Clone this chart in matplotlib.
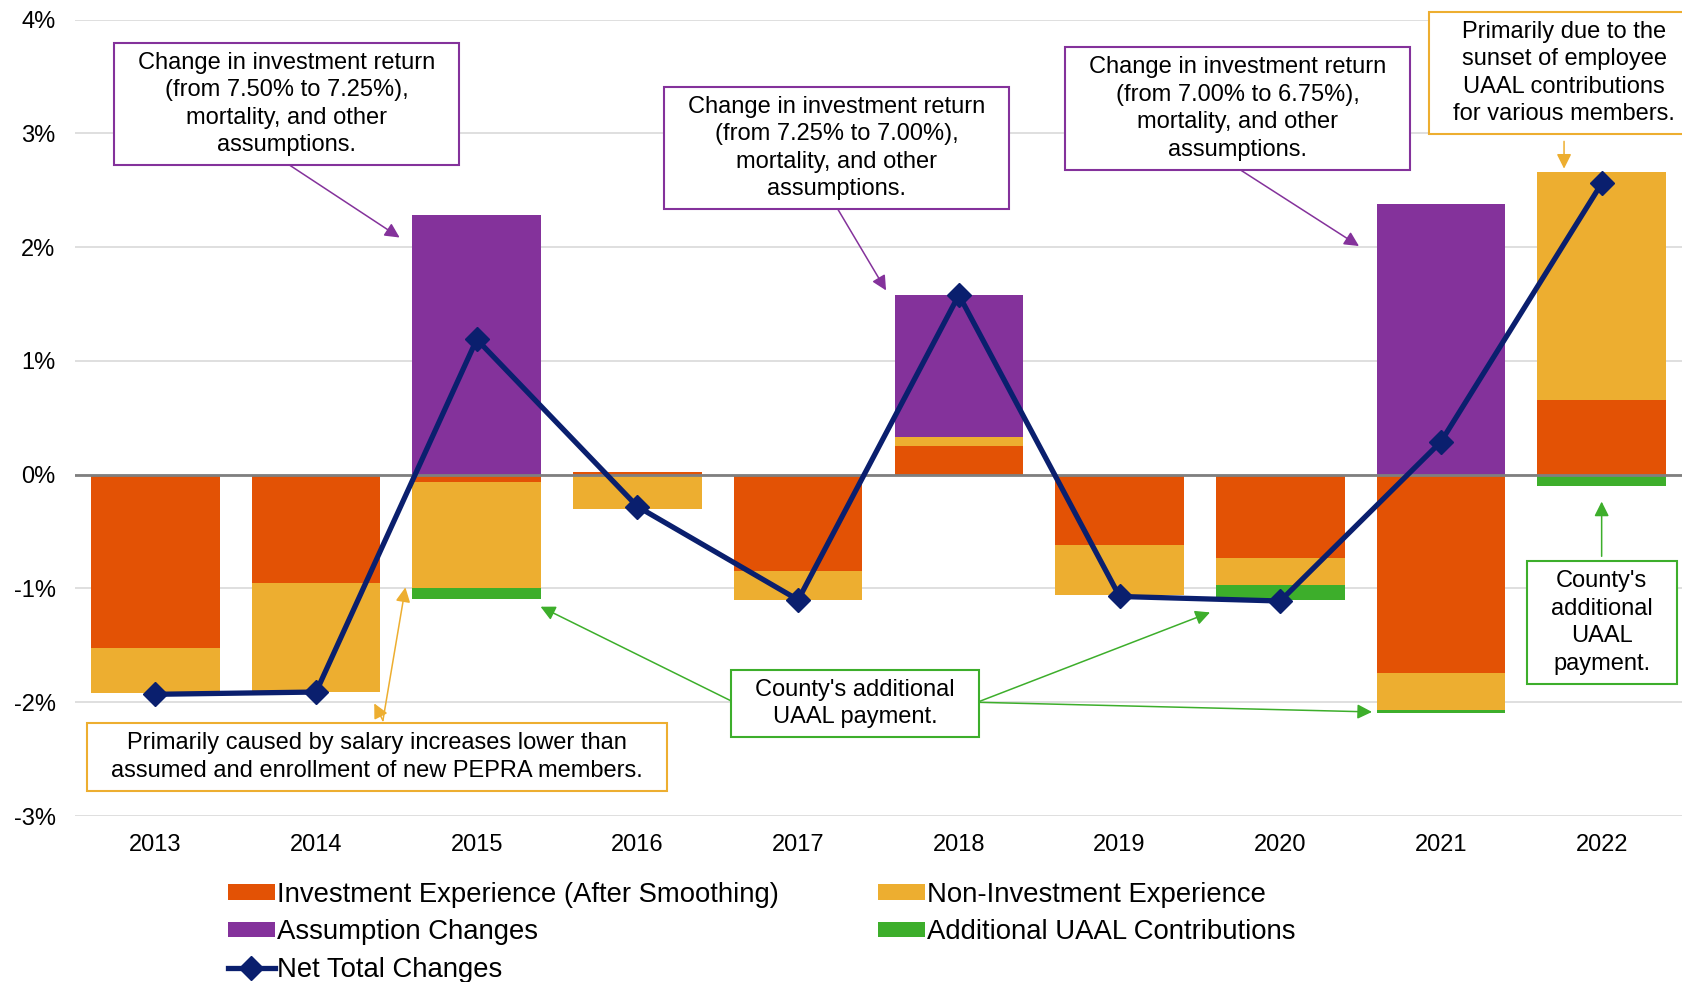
import matplotlib
matplotlib.use("Agg")
import matplotlib.pyplot as plt
from matplotlib.patches import Rectangle
import numpy as np

plt.rcParams['font.family'] = ['Liberation Sans', 'DejaVu Sans']

# UAAL change components by valuation year (% of payroll)
years = ['2013', '2014', '2015', '2016', '2017', '2018', '2019', '2020', '2021', '2022']
investment = [-1.52, -0.95, -0.06, 0.02, -0.85, 0.25, -0.62, -0.73, -1.74, 0.66]
non_investment = [-0.40, -0.96, -0.94, -0.30, -0.25, 0.08, -0.44, -0.24, -0.33, 2.00]
assumption = [0.00, 0.00, 2.28, 0.00, 0.00, 1.25, 0.00, 0.00, 2.38, 0.00]
additional_uaal = [0.00, 0.00, -0.09, 0.00, 0.00, 0.00, 0.00, -0.13, -0.02, -0.10]
net_total = [-1.93, -1.91, 1.19, -0.28, -1.10, 1.58, -1.07, -1.11, 0.29, 2.56]

C_INV = '#E35205'
C_NONINV = '#EDAE30'
C_ASSUMP = '#84329B'
C_GREEN = '#3DAE2B'
C_NET = '#0A1F6E'

fig = plt.figure(figsize=(16.82, 9.82), dpi=100)
ax = fig.add_axes([0.0446, 0.169, 0.9554, 0.811])

x = np.arange(len(years))
width = 0.8
pos_bottom = np.zeros(len(years))
neg_bottom = np.zeros(len(years))
series = [
    (investment, C_INV, 'Investment Experience (After Smoothing)'),
    (non_investment, C_NONINV, 'Non-Investment Experience'),
    (assumption, C_ASSUMP, 'Assumption Changes'),
    (additional_uaal, C_GREEN, 'Additional UAAL Contributions'),
]
bar_handles = []
for vals, col, lab in series:
    v = np.array(vals)
    bottoms = np.where(v >= 0, pos_bottom, neg_bottom)
    h = ax.bar(x, v, width, bottom=bottoms, color=col, label=lab, zorder=2)
    bar_handles.append(h)
    pos_bottom += np.where(v > 0, v, 0)
    neg_bottom += np.where(v < 0, v, 0)

line_h, = ax.plot(x, net_total, color=C_NET, lw=3.8, marker='D', markersize=12,
                  zorder=4, label='Net Total Changes')

ax.axhline(0, color='#7f7f7f', lw=2, zorder=3)
ax.set_ylim(-3, 4)
ax.set_xlim(-0.5, len(years) - 0.5)
ax.set_yticks(range(-3, 5))
ax.set_yticklabels([f'{t}%' for t in range(-3, 5)])
ax.set_xticks(x)
ax.set_xticklabels(years)
ax.tick_params(axis='both', length=0, labelsize=17)
ax.tick_params(axis='x', pad=13)
ax.tick_params(axis='y', pad=14)
ax.grid(axis='y', color='#d9d9d9', lw=1.2, zorder=0)
ax.set_axisbelow(True)
for s in ax.spines.values():
    s.set_visible(False)

notes = []


def note(xc, yc, txt, edge):
    t = ax.text(xc, yc, txt, ha='center', va='center', fontsize=17, linespacing=1.32,
                zorder=7)
    notes.append((t, edge))


def arrow(start, tip, col):
    ax.annotate('', xy=tip, xytext=start, zorder=5,
                arrowprops=dict(arrowstyle='-|>', color=col, lw=1.1,
                                mutation_scale=22, shrinkA=0, shrinkB=0))


# assumption change callouts
note(0.815, 3.26, 'Change in investment return\n(from 7.50% to 7.25%),\nmortality, and other\nassumptions.', C_ASSUMP)
arrow((0.815, 2.74), (1.52, 2.085), C_ASSUMP)
note(4.24, 2.87, 'Change in investment return\n(from 7.25% to 7.00%),\nmortality, and other\nassumptions.', C_ASSUMP)
arrow((4.24, 2.35), (4.547, 1.62), C_ASSUMP)
note(6.736, 3.22, 'Change in investment return\n(from 7.00% to 6.75%),\nmortality, and other\nassumptions.', C_ASSUMP)
arrow((6.74, 2.69), (7.49, 2.01), C_ASSUMP)

# non-investment callouts
note(8.766, 3.53, 'Primarily due to the\nsunset of employee\nUAAL contributions\nfor various members.', C_NONINV)
arrow((8.766, 2.93), (8.766, 2.69), C_NONINV)
note(1.38, -2.48, 'Primarily caused by salary increases lower than\nassumed and enrollment of new PEPRA members.', C_NONINV)
arrow((1.416, -2.16), (1.556, -0.99), C_NONINV)
arrow((1.416, -2.16), (1.362, -2.01), C_NONINV)

# additional UAAL payment callouts
note(4.353, -2.01, "County's additional\nUAAL payment.", C_GREEN)
arrow((3.60, -2.0), (2.397, -1.16), C_GREEN)
arrow((5.114, -2.0), (6.563, -1.21), C_GREEN)
arrow((5.114, -2.0), (7.571, -2.085), C_GREEN)
note(9.0, -1.30, "County's\nadditional\nUAAL\npayment.", C_GREEN)
arrow((9.0, -0.717), (9.0, -0.236), C_GREEN)

handles = [bar_handles[0], bar_handles[2], line_h, bar_handles[1], bar_handles[3]]
fig.legend(handles=handles, labels=[h.get_label() for h in handles], ncol=2,
           loc='upper left', bbox_to_anchor=(0.1356, 0.102), frameon=False,
           fontsize=19.8, borderpad=0, borderaxespad=0, handlelength=1.7,
           handleheight=0.5, handletextpad=0.08, columnspacing=3.6, labelspacing=0.42)

# boxes around callout text: wider side padding than top/bottom
fig.canvas.draw()
renderer = fig.canvas.get_renderer()
inv = ax.transData.inverted()
PAD_X, PAD_Y = 24, 9
for t, edge in notes:
    bb = t.get_window_extent(renderer)
    (x0, y0) = inv.transform((bb.x0 - PAD_X, bb.y0 - PAD_Y))
    (x1, y1) = inv.transform((bb.x1 + PAD_X, bb.y1 + PAD_Y))
    ax.add_patch(Rectangle((x0, y0), x1 - x0, y1 - y0, fc='white', ec=edge,
                           lw=1.5, zorder=6, clip_on=False))

fig.savefig('out.png', dpi=100)
